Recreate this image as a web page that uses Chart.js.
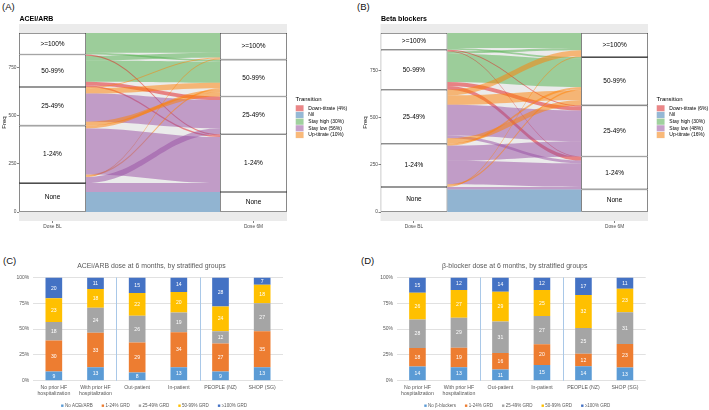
<!DOCTYPE html>
<html><head><meta charset="utf-8">
<script src="https://cdn.jsdelivr.net/npm/chart.js@4.4.1/dist/chart.umd.min.js"></script>
<style>
html,body{margin:0;padding:0;background:#fff;}
body{width:709px;height:410px;overflow:hidden;position:relative;font-family:"Liberation Sans",Arial,sans-serif;}
canvas{position:absolute;}
.pl{position:absolute;font-size:9.5px;color:#111;line-height:1;}
</style></head><body>
<div class="pl" style="left:2px;top:2px">(A)</div>
<div class="pl" style="left:357px;top:2px">(B)</div>
<div class="pl" style="left:3px;top:256px">(C)</div>
<div class="pl" style="left:361px;top:256px">(D)</div>
<canvas id="cA" width="355" height="232" style="left:0;top:0"></canvas>
<canvas id="cB" width="354" height="232" style="left:355px;top:0"></canvas>
<canvas id="cC" width="355" height="170" style="left:0;top:240px"></canvas>
<canvas id="cD" width="354" height="170" style="left:355px;top:240px"></canvas>
<script>
// ================= DATA =================
const strata = ['>=100%', '50-99%', '25-49%', '1-24%', 'None'];
const timepoints = ['Dose BL', 'Dose 6M'];
const transitions = ['Down-titrate', 'Nil', 'Stay high', 'Stay low', 'Up-titrate'];
const transitionColors = ['#E41A1C', '#377EB8', '#4DAF4A', '#984EA3', '#FF7F00'];
const sharesA = [4, null, 30, 56, 10];
const sharesB = [6, null, 30, 48, 16];
const freqTicks = [0, 250, 500, 750];

// ACEi/ARB alluvial flows (stratum index into strata, type index into transitions)
const flowFromA  = [0, 0, 1, 1, 1, 1, 1, 2, 2, 2, 2, 3, 3, 3, 3, 3, 4, 4];
const flowToA    = [0, 1, 0, 1, 3, 2, 3, 1, 0, 2, 1, 0, 1, 1, 3, 2, 3, 4];
const flowCountA = [102, 10, 25, 110, 6, 19, 8, 28, 6, 146, 20, 5, 8, 15, 239, 31, 46, 104];
const flowTypeA  = [2, 2, 2, 2, 0, 0, 0, 4, 4, 3, 4, 4, 4, 4, 3, 3, 3, 1];
const orderBLA   = [0, 1, 4, 2, 3, 5, 6, 8, 7, 9, 10, 13, 14, 12, 11, 15, 16, 17];
const order6MA   = [0, 2, 8, 11, 1, 3, 7, 12, 13, 10, 5, 9, 15, 4, 6, 14, 16, 17];

// Beta blocker alluvial flows
const flowFromB  = [0, 0, 1, 1, 1, 1, 1, 1, 2, 2, 2, 2, 2, 3, 3, 3, 3, 3, 4, 4];
const flowToB    = [0, 1, 0, 1, 2, 3, 2, 3, 0, 1, 2, 3, 1, 1, 2, 3, 1, 0, 3, 4];
const flowCountB = [80, 9, 12, 150, 6, 3, 22, 19, 30, 50, 163, 15, 29, 10, 80, 125, 8, 6, 13, 120];
const flowTypeB  = [2, 2, 2, 2, 0, 0, 0, 0, 4, 4, 3, 3, 4, 4, 3, 3, 4, 4, 3, 1];
const orderBLB   = [0, 1, 4, 5, 2, 3, 6, 7, 8, 9, 10, 11, 12, 13, 14, 15, 16, 17, 18, 19];
const order6MB   = [0, 2, 8, 17, 1, 3, 13, 16, 9, 12, 4, 6, 10, 14, 5, 7, 11, 15, 18, 19];

// Stacked bar charts (percent of patients)
const groups = [['No prior HF', 'hospitalization'], ['With prior HF', 'hospitalization'], 'Out-patient', 'In-patient', 'PEOPLE (NZ)', 'SHOP (SG)'];
const groupBreaks = [2, 4];
const pctTicks = [0, 25, 50, 75, 100];
const seriesColors = ['#5B9BD5', '#ED7D31', '#A5A5A5', '#FFC000', '#4472C4'];
const seriesC = ['No ACEi/ARB', '1-24% GRD', '25-49% GRD', '50-99% GRD', '≥100% GRD'];
const seriesD = ['No β-blockers', '1-24% GRD', '25-49% GRD', '50-99% GRD', '≥100% GRD'];
const noneC  = [9, 13, 8, 13, 9, 13];
const g1C    = [30, 33, 29, 34, 27, 35];
const g25C   = [18, 24, 26, 19, 12, 27];
const g50C   = [23, 18, 22, 20, 24, 18];
const g100C  = [20, 11, 15, 14, 28, 7];
const noneD  = [14, 13, 11, 15, 14, 13];
const g1D    = [18, 19, 16, 20, 12, 23];
const g25D   = [28, 29, 31, 27, 25, 31];
const g50D   = [26, 27, 29, 25, 32, 23];
const g100D  = [15, 12, 14, 12, 17, 11];

// ================= RENDERING =================
const FONT = '"Liberation Sans", Arial, sans-serif';
Chart.defaults.font.family = FONT;

function rgba(hex, a) {
  const r = parseInt(hex.slice(1, 3), 16), g = parseInt(hex.slice(3, 5), 16), b = parseInt(hex.slice(5, 7), 16);
  return `rgba(${r},${g},${b},${a})`;
}

function makeAlluvial(id, from, to, count, type, orderL, orderR, shares, title, geom) {
  const n = count.length, nS = strata.length;
  const total = count.reduce((a, b) => a + b, 0);
  const sumL = Array(nS).fill(0), sumR = Array(nS).fill(0);
  for (let i = 0; i < n; i++) { sumL[from[i]] += count[i]; sumR[to[i]] += count[i]; }
  const posL = [], posR = [];
  let t = total;
  for (const i of orderL) { posL[i] = [t, t - count[i]]; t -= count[i]; }
  t = total;
  for (const i of orderR) { posR[i] = [t, t - count[i]]; t -= count[i]; }
  const datasets = [];
  let tl = total, tr = total;
  for (let s = 0; s < nS; s++) {
    datasets.push({
      label: strata[s],
      data: [{x: 1, y: [tl - sumL[s], tl]}, {x: 2, y: [tr - sumR[s], tr]}],
      backgroundColor: '#ffffff', borderColor: '#4d4d4d', borderWidth: 0.8,
      borderSkipped: false, grouped: false, barPercentage: 1 / 3, categoryPercentage: 1, inflateAmount: 0
    });
    tl -= sumL[s]; tr -= sumR[s];
  }
  const plugin = {
    id: 'alluvial' + id,
    beforeDraw(chart) {
      const a = chart.chartArea, c = chart.ctx;
      c.save(); c.fillStyle = '#EBEBEB'; c.fillRect(a.left, a.top, a.right - a.left, a.bottom - a.top); c.restore();
    },
    beforeDatasetsDraw(chart) {
      const c = chart.ctx, ys = chart.scales.y, a = chart.chartArea;
      const m = chart.getDatasetMeta(0);
      const bl = m.data[0], br = m.data[1];
      const x0 = bl.x + bl.width / 2, x1 = br.x - br.width / 2, w = x1 - x0, k = 0.42;
      c.save();
      c.beginPath(); c.rect(a.left, a.top, a.right - a.left, a.bottom - a.top); c.clip();
      for (let i = 0; i < n; i++) {
        const yt0 = ys.getPixelForValue(posL[i][0]), yb0 = ys.getPixelForValue(posL[i][1]);
        const yt1 = ys.getPixelForValue(posR[i][0]), yb1 = ys.getPixelForValue(posR[i][1]);
        c.beginPath();
        c.moveTo(x0, yt0);
        c.bezierCurveTo(x0 + k * w, yt0, x1 - k * w, yt1, x1, yt1);
        c.lineTo(x1, yb1);
        c.bezierCurveTo(x1 - k * w, yb1, x0 + k * w, yb0, x0, yb0);
        c.closePath();
        c.fillStyle = rgba(transitionColors[type[i]], 0.5);
        c.fill();
      }
      c.restore();
    },
    afterDatasetsDraw(chart) {
      const c = chart.ctx;
      c.save();
      c.font = `6.5px ${FONT}`; c.fillStyle = '#000'; c.textAlign = 'center'; c.textBaseline = 'middle';
      chart.data.datasets.forEach((ds, s) => {
        chart.getDatasetMeta(s).data.forEach(el => {
          c.fillText(ds.label, el.x, (el.y + el.base) / 2);
        });
      });
      c.restore();
    },
    afterDraw(chart) {
      const c = chart.ctx, a = chart.chartArea;
      c.save();
      c.fillStyle = '#000'; c.textAlign = 'left'; c.textBaseline = 'alphabetic';
      c.font = `bold 7px ${FONT}`;
      c.fillText(title, a.left + 0.5, a.top - 3.3);
      const lx = a.right + 8.5, cy = (a.top + a.bottom) / 2;
      c.font = `6px ${FONT}`; c.textBaseline = 'middle';
      c.fillText('Transition', lx, cy - 23.5);
      const kh = 6.67, kw = 8.3, ky = cy - 17.5;
      c.font = `5px ${FONT}`;
      transitions.forEach((tr, i) => {
        const y = ky + i * kh;
        c.fillStyle = '#F2F2F2'; c.fillRect(lx, y, kw, kh);
        c.fillStyle = rgba(transitionColors[i], 0.5); c.fillRect(lx + 0.3, y + 0.3, kw - 0.6, kh - 0.6);
        c.fillStyle = '#000';
        const txt = shares[i] === null ? tr : `${tr} (${shares[i]}%)`;
        c.fillText(txt, lx + kw + 4.5, y + kh / 2);
      });
      c.restore();
    }
  };
  return new Chart(document.getElementById(id), {
    type: 'bar',
    data: {datasets},
    plugins: [plugin],
    options: {
      responsive: false, animation: false, events: [],
      layout: {padding: {left: 0, top: 24, right: geom.padRight, bottom: 0}},
      plugins: {legend: {display: false}, tooltip: {enabled: false}, title: {display: false}},
      scales: {
        x: {
          type: 'linear', offset: false, min: 1 - 1 / 6, max: 2 + 1 / 6,
          afterBuildTicks: s => { s.ticks = timepoints.map((_, i) => ({value: i + 1})); },
          ticks: {callback: (v, i) => timepoints[i], font: {size: 4.8}, color: '#4D4D4D', padding: 0.3, maxRotation: 0, autoSkip: false},
          grid: {offset: false, drawOnChartArea: false, tickLength: 2, color: '#333', lineWidth: 0.6},
          border: {display: false},
          afterFit: s => { s.height = 11; }
        },
        y: {
          type: 'linear', min: -0.05 * total, max: 1.05 * total,
          afterBuildTicks: s => { s.ticks = freqTicks.map(v => ({value: v})); },
          ticks: {font: {size: 4.8}, color: '#4D4D4D', padding: 0.5},
          grid: {drawOnChartArea: false, tickLength: 2, color: '#333', lineWidth: 0.6},
          border: {display: false},
          title: {display: true, text: 'Freq', font: {size: 6}, color: '#000', padding: geom.titlePad},
          afterFit: s => { s.width = geom.yw; }
        }
      }
    }
  });
}

function makeBars(id, title, names, values, geom) {
  const sums = groups.map((_, j) => values.reduce((a, v) => a + v[j], 0));
  const datasets = names.map((nm, k) => ({
    label: nm,
    data: values[k].map((v, j) => v / sums[j] * 100),
    backgroundColor: seriesColors[k], borderWidth: 0,
    barPercentage: 0.4, categoryPercentage: 1
  }));
  const plugin = {
    id: 'bars' + id,
    beforeDatasetsDraw(chart) {
      const c = chart.ctx, xs = chart.scales.x, a = chart.chartArea;
      c.save(); c.strokeStyle = '#A9C8E8'; c.lineWidth = 1;
      groupBreaks.forEach(b => {
        const x = Math.round((xs.getPixelForValue(b - 1) + xs.getPixelForValue(b)) / 2) + 0.5;
        c.beginPath(); c.moveTo(x, a.top); c.lineTo(x, a.bottom); c.stroke();
      });
      c.restore();
    },
    afterDatasetsDraw(chart) {
      const c = chart.ctx;
      c.save();
      c.font = `5.1px ${FONT}`; c.fillStyle = '#fff'; c.textAlign = 'center'; c.textBaseline = 'middle';
      values.forEach((vals, k) => {
        chart.getDatasetMeta(k).data.forEach((el, j) => {
          c.fillText(String(vals[j]), el.x, (el.y + el.base) / 2 + 0.3);
        });
      });
      c.restore();
    },
    afterDraw(chart) {
      const c = chart.ctx, a = chart.chartArea;
      const cx = (a.left + a.right) / 2;
      c.save();
      c.fillStyle = '#595959'; c.textAlign = 'center'; c.textBaseline = 'middle';
      c.font = `6.9px ${FONT}`;
      c.fillText(title, cx - 6.5, a.top - 11.5);
      c.font = `4.5px ${FONT}`; c.textAlign = 'left';
      const sq = 2.4, gap = 1.4, sp = 9;
      const widths = names.map(nm => c.measureText(nm).width);
      const totalW = widths.reduce((s, w) => s + w + sq + gap, 0) + sp * (names.length - 1);
      let x = cx - 4 - totalW / 2;
      const y = a.bottom + 25;
      names.forEach((nm, k) => {
        c.fillStyle = seriesColors[k]; c.fillRect(x, y - sq / 2, sq, sq);
        c.fillStyle = '#595959'; c.fillText(nm, x + sq + gap, y);
        x += sq + gap + widths[k] + sp;
      });
      c.restore();
    }
  };
  return new Chart(document.getElementById(id), {
    type: 'bar',
    data: {labels: groups, datasets},
    plugins: [plugin],
    options: {
      responsive: false, animation: false, events: [],
      layout: {padding: {left: 0, top: 37.5, right: geom.padRight, bottom: 0}},
      plugins: {legend: {display: false}, tooltip: {enabled: false}, title: {display: false}},
      scales: {
        x: {
          stacked: true,
          grid: {display: false, drawTicks: false},
          border: {display: false},
          ticks: {font: {size: 5.2, lineHeight: 1.15}, color: '#595959', padding: 4.3, maxRotation: 0, autoSkip: false},
          afterFit: s => { s.height = 29.3; }
        },
        y: {
          stacked: true, min: 0, max: 100,
          afterBuildTicks: s => { s.ticks = pctTicks.map(v => ({value: v})); },
          ticks: {callback: v => v + '%', font: {size: 5}, color: '#595959', padding: 3.7},
          grid: {color: '#D9D9D9', drawTicks: false, lineWidth: 0.8},
          border: {display: false},
          afterFit: s => { s.width = geom.yw; }
        }
      }
    }
  });
}

makeAlluvial('cA', flowFromA, flowToA, flowCountA, flowTypeA, orderBLA, order6MA, sharesA, 'ACEI/ARB', {padRight: 68, yw: 19, titlePad: 0.4});
makeAlluvial('cB', flowFromB, flowToB, flowCountB, flowTypeB, orderBLB, order6MB, sharesB, 'Beta blockers', {padRight: 61, yw: 25.5, titlePad: 7});
makeBars('cC', 'ACEi/ARB dose at 6 months, by stratified groups', seriesC, [noneC, g1C, g25C, g50C, g100C], {padRight: 72, yw: 33});
makeBars('cD', 'β-blocker dose at 6 months, by stratified groups', seriesD, [noneD, g1D, g25D, g50D, g100D], {padRight: 63.3, yw: 41.7});
</script>
</body></html>
